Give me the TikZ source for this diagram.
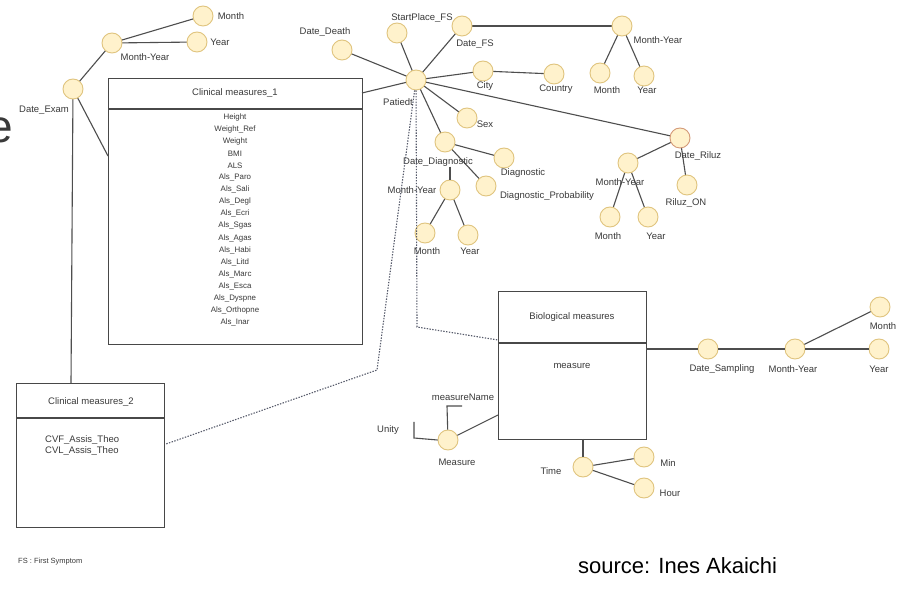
\documentclass[tikz,border=0pt]{standalone}
\usepackage{fontspec}
\setmainfont{Liberation Sans}
\usetikzlibrary{calc}
\definecolor{cfill}{HTML}{FFF2CC}
\definecolor{cborder}{HTML}{E0C47E}
\definecolor{criluz}{HTML}{D49A78}
\definecolor{cline}{HTML}{4E4E4E}
\definecolor{cbox}{HTML}{484848}
\definecolor{ctext}{HTML}{3A3A3A}
\definecolor{cdot}{HTML}{565A6A}
\tikzset{
  ent/.style={circle, draw=cborder, fill=cfill, minimum size=20pt, inner sep=0pt, line width=0.9pt},
  lab/.style={font=\fontsize{9.5}{10}\selectfont, text=ctext, inner sep=0pt},
  small/.style={font=\fontsize{7.9}{8}\selectfont, text=ctext, inner sep=0pt},
  conn/.style={draw=cline, line width=1.1pt},
  dots/.style={draw=cdot, line width=1.1pt, dash pattern=on 1.4pt off 1.4pt},
  ebox/.style={draw=cbox, line width=1.4pt, inner sep=0pt, anchor=north west},
}
\begin{document}
\begin{tikzpicture}[x=1pt,y=-1pt]
\useasboundingbox[fill=white] (0,0) rectangle (903,593);

% partial big letter at left edge
\node[anchor=base east, inner sep=0pt, text=ctext, font=\fontsize{46}{46}\selectfont] (bige) at (13.5,143) {e};

% ---------- boxes ----------
\node[ebox, minimum width=254pt, minimum height=266pt] (cm1) at (108,78) {};
\draw[draw=cbox, line width=1.4pt] (cm1.north west) ++(0,31) coordinate (cm1dl) -- (cm1dl -| cm1.east);
\node[lab] (cm1t) at (235,93) {Clinical measures\_1};
\foreach \t [count=\i from 0] in {Height,Weight\_Ref,Weight,BMI,ALS,Als\_Paro,Als\_Sali,Als\_Degl,Als\_Ecri,Als\_Sgas,Als\_Agas,Als\_Habi,Als\_Litd,Als\_Marc,Als\_Esca,Als\_Dyspne,Als\_Orthopne,Als\_Inar}
  \node[small] (cm1i\i) at (235,{117+12.1*\i}) {\t};

\node[ebox, minimum width=148pt, minimum height=144pt] (cm2) at (16,383) {};
\draw[draw=cbox, line width=1.4pt] (cm2.north west) ++(0,35) coordinate (cm2dl) -- (cm2dl -| cm2.east);
\node[lab] (cm2t) at (91,402) {Clinical measures\_2};
\node[lab, anchor=west] (cm2a) at (45,440) {CVF\_Assis\_Theo};
\node[lab, anchor=west] (cm2b) at (45,451) {CVL\_Assis\_Theo};

\node[ebox, minimum width=148pt, minimum height=148pt] (bio) at (498,291) {};
\draw[draw=cbox, line width=1.4pt] (bio.north west) ++(0,52) coordinate (biodl) -- (biodl -| bio.east);
\node[lab] (biot) at (572,317) {Biological measures};
\node[lab] (biom) at (572,366) {measure};

% ---------- edge points on boxes ----------
\coordinate (cm1L) at (108,156);
\coordinate (cm1R) at (362,93);
\coordinate (cm2T) at (71,383);
\coordinate (cm2R) at (166,444);
\coordinate (bioL1) at (498,340);
\coordinate (bioL2) at (498,415);
\coordinate (bioR) at (646,349);
\coordinate (bioB) at (583,439);
\coordinate (dbend1) at (377,370);
\coordinate (dbend2) at (417,327);
\coordinate (mnb1) at (447,406);
\coordinate (mnb2) at (462,406);
\coordinate (unb1) at (414,422);
\coordinate (unb2) at (414,438);

% ---------- connectors under the circles ----------
\draw[conn] (112,43) -- (203,16);
\draw[conn] (112,43) -- (197,42);
\draw[conn] (73,89) -- (112,43);
\draw[conn] (73,89) -- (cm2T);
\draw[conn] (73,89) -- (cm1L);
\draw[conn] (416,80) -- (cm1R);
\draw[conn] (416,80) -- (342,50);
\draw[conn] (416,80) -- (397,33);
\draw[conn] (416,80) -- (462,26);
\draw[conn] (416,80) -- (483,71);
\draw[conn] (483,71) -- (554,74);
\draw[conn] (416,80) -- (680,138);
\draw[conn] (416,80) -- (467,118);
\draw[conn] (416,80) -- (445,142);
\draw[conn] (462,26) -- (622,26);
\draw[conn] (622,26) -- (600,73);
\draw[conn] (622,26) -- (644,76);
\draw[conn] (680,138) -- (628,163);
\draw[conn] (680,138) -- (687,185);
\draw[conn] (628,163) -- (610,217);
\draw[conn] (628,163) -- (648,217);
\draw[conn] (445,142) -- (504,158);
\draw[conn] (445,142) -- (486,186);
\draw[conn] (450,190) -- (425,233);
\draw[conn] (450,190) -- (468,235);

% ---------- entity circles ----------
\node[ent] (cmonth) at (203,16) {};
\node[ent] (cyear) at (197,42) {};
\node[ent] (cmy) at (112,43) {};
\node[ent] (dexam) at (73,89) {};
\node[ent] (ddeath) at (342,50) {};
\node[ent] (spfs) at (397,33) {};
\node[ent] (dfs) at (462,26) {};
\node[ent] (pat) at (416,80) {};
\node[ent] (city) at (483,71) {};
\node[ent] (country) at (554,74) {};
\node[ent] (fmy) at (622,26) {};
\node[ent] (fmonth) at (600,73) {};
\node[ent] (fyear) at (644,76) {};
\node[ent] (sex) at (467,118) {};
\node[ent, draw=criluz] (driluz) at (680,138) {};
\node[ent] (riluzon) at (687,185) {};
\node[ent] (rmy) at (628,163) {};
\node[ent] (rmonth) at (610,217) {};
\node[ent] (ryear) at (648,217) {};
\node[ent] (ddiag) at (445,142) {};
\node[ent] (diag) at (504,158) {};
\node[ent] (dprob) at (486,186) {};
\node[ent] (dmy) at (450,190) {};
\node[ent] (dmonth) at (425,233) {};
\node[ent] (dyear) at (468,235) {};
\node[ent] (dsamp) at (708,349) {};
\node[ent] (smy) at (795,349) {};
\node[ent] (smonth) at (880,307) {};
\node[ent] (syear) at (879,349) {};
\node[ent] (meas) at (448,440) {};
\node[ent] (time) at (583,467) {};
\node[ent] (tmin) at (644,457) {};
\node[ent] (thour) at (644,488) {};

% ---------- labels ----------
\node[lab] (lcmonth) at (231,16) {Month};
\node[lab] (lcyear) at (220,42) {Year};
\node[lab] (lcmy) at (145,57) {Month-Year};
\node[lab] (ldexam) at (44,110) {Date\_Exam};
\node[lab] (lddeath) at (325,32) {Date\_Death};
\node[lab] (lspfs) at (422,18) {StartPlace\_FS};
\node[lab] (ldfs) at (475,44) {Date\_FS};
\node[lab] (lpat) at (398,102) {Patiedt};
\node[lab] (lcity) at (485,86) {City};
\node[lab] (lcountry) at (556,89) {Country};
\node[lab] (lfmy) at (658,40) {Month-Year};
\node[lab] (lfmonth) at (607,90) {Month};
\node[lab] (lfyear) at (647,90) {Year};
\node[lab] (lsex) at (485,124) {Sex};
\node[lab] (ldriluz) at (698,156) {Date\_Riluz};
\node[lab] (lriluzon) at (686,203) {Riluz\_ON};
\node[lab] (lrmy) at (620,182) {Month-Year};
\node[lab] (lrmonth) at (608,236) {Month};
\node[lab] (lryear) at (656,236) {Year};
\node[lab] (lddiag) at (438,162) {Date\_Diagnostic};
\node[lab] (ldiag) at (523,173) {Diagnostic};
\node[lab] (ldprob) at (547,196) {Diagnostic\_Probability};
\node[lab] (ldmy) at (412,190) {Month-Year};
\node[lab] (ldmonth) at (427,251) {Month};
\node[lab] (ldyear) at (470,251) {Year};
\node[lab] (ldsamp) at (722,369) {Date\_Sampling};
\node[lab] (lsmy) at (793,369) {Month-Year};
\node[lab] (lsmonth) at (883,326) {Month};
\node[lab] (lsyear) at (879,369) {Year};
\node[lab] (lmeas) at (457,462) {Measure};
\node[lab] (lmname) at (463,397) {measureName};
\node[lab] (lunity) at (388,430) {Unity};
\node[lab] (ltime) at (551,471) {Time};
\node[lab] (ltmin) at (668,463) {Min};
\node[lab] (lthour) at (670,493) {Hour};

% ---------- remaining connectors ----------
\draw[conn] (lddiag.south -| dmy) -- (dmy);
\draw[conn] (bioR) -- (dsamp);
\draw[conn] (dsamp) -- (smy);
\draw[conn] (smy) -- (smonth);
\draw[conn] (smy) -- (syear);
\draw[conn] (meas) -- (bioL2);
\draw[conn] (meas) -- (mnb1) -- (mnb2);
\draw[conn] (unb1) -- (unb2) -- (meas.west);
\draw[conn] (bioB) -- (time);
\draw[conn] (time) -- (tmin);
\draw[conn] (time) -- (thour);

\draw[dots] (pat) -- (dbend1) -- (cm2R);
\draw[dots] (pat) -- (dbend2) -- (bioL1);

% ---------- footer ----------
\node[anchor=west, inner sep=0pt, text=ctext, font=\fontsize{7.5}{8}\selectfont] (fs) at (18,562) {FS : First Symptom};
\node[anchor=west, inner sep=0pt, text=black, font=\fontsize{22}{23}\selectfont] (src) at (578,566) {source: Ines Akaichi};
\end{tikzpicture}
\end{document}
